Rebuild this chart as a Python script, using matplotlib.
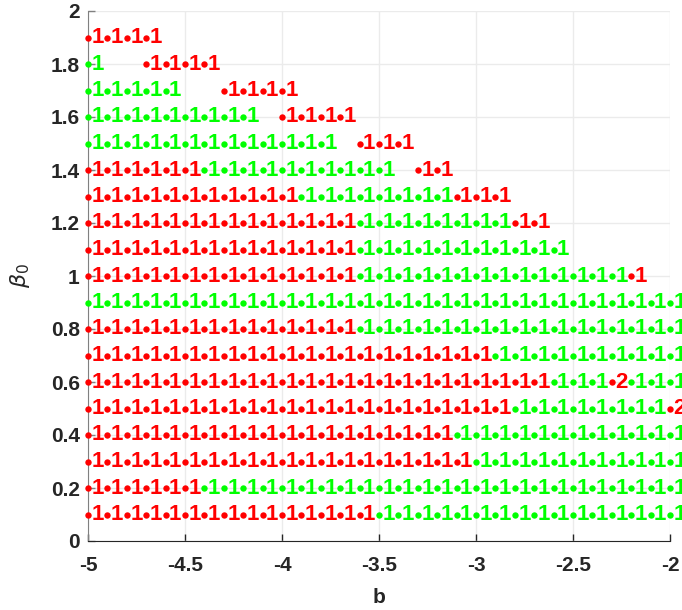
import numpy as np
import matplotlib
matplotlib.use("Agg")
import matplotlib.pyplot as plt
from matplotlib.transforms import offset_copy

# b grid values (-5.0 ... -2.0)
b_values = [round(-5.0 + 0.1 * i, 1) for i in range(31)]
beta_values = [1.9, 1.8, 1.7, 1.6, 1.5, 1.4, 1.3, 1.2, 1.1, 1.0,
               0.9, 0.8, 0.7, 0.6, 0.5, 0.4, 0.3, 0.2, 0.1]
# R = red "1", G = green "1", 2 = red "2", . = no point
rows = [
    "RRRR...........................",
    "G..RRRR........................",
    "GGGGG..RRRR....................",
    "GGGGGGGGG.RRRR.................",
    "GGGGGGGGGGGGG.RRR..............",
    "RRRRRRGGGGGGGGGG.RR............",
    "RRRRRRRRRRRGGGGGGGGRRR.........",
    "RRRRRRRRRRRRRRGGGGGGGGRR.......",
    "RRRRRRRRRRRRRRGGGGGGGGGGG......",
    "RRRRRRRRRRRRRRGGGGGGGGGGGGGGR..",
    "GGGGGGGGGGGGGGGGGGGGGGGGGGGGGGG",
    "RRRRRRRRRRRRRRGGGGGGGGGGGGGGGGG",
    "RRRRRRRRRRRRRRRRRRRRRGGGGGGGGGG",
    "RRRRRRRRRRRRRRRRRRRRRRRRGGG2GGG",
    "RRRRRRRRRRRRRRRRRRRRRRGGGGGGGG2",
    "RRRRRRRRRRRRRRRRRRRGGGGGGGGGGGG",
    "RRRRRRRRRRRRRRRRRRRRGGGGGGGGGGG",
    "RRRRRRGGGGGGGGGGGGGGGGGGGGGGGGG",
    "RRRRRRRRRRRRRRRGGGGGGGGGGGGGGGG",
]
xticks = [-5, -4.5, -4, -3.5, -3, -2.5, -2]
xticklabels = ["-5", "-4.5", "-4", "-3.5", "-3", "-2.5", "-2"]
yticks = [0, 0.2, 0.4, 0.6, 0.8, 1.0, 1.2, 1.4, 1.6, 1.8, 2.0]
yticklabels = ["0", "0.2", "0.4", "0.6", "0.8", "1", "1.2", "1.4", "1.6", "1.8", "2"]

code_color = {"R": (1, 0, 0), "G": (0, 1, 0), "2": (1, 0, 0)}
code_label = {"R": "1", "G": "1", "2": "2"}

plt.rcParams['font.family'] = ['Liberation Sans', 'DejaVu Sans']

fig = plt.figure(figsize=(6.82, 6.10), dpi=100)
ax = fig.add_axes([88/682, 69/610, (670-88)/682, (541-11)/610])

ax.set_xlim(-5, -2)
ax.set_ylim(0, 2)
ax.set_xticks(xticks)
ax.set_xticklabels(xticklabels)
ax.set_yticks(yticks)
ax.set_yticklabels(yticklabels)
ax.grid(True, color='#ebebeb', linewidth=1.0)
ax.set_axisbelow(True)
for s in ['top', 'right']:
    ax.spines[s].set_visible(False)
ax.spines['left'].set_color('#808080')
ax.spines['bottom'].set_color('#262626')
ax.tick_params(direction='in', length=5, width=1, colors='#262626',
               labelsize=15)
ax.tick_params(axis='x', pad=11)
ax.tick_params(axis='y', colors='#808080', labelcolor='#262626', pad=6)
for lab in ax.get_xticklabels() + ax.get_yticklabels():
    lab.set_fontweight('bold')

txt_tr = offset_copy(ax.transData, fig=fig, x=2.5, y=0, units='points')
for beta, row in zip(beta_values, rows):
    for b, c in zip(b_values, row):
        if c == '.':
            continue
        col = code_color[c]
        ax.plot([b], [beta], 'o', color=col, markersize=4.6,
                markeredgewidth=0, clip_on=False, zorder=3)
        ax.text(b, beta, code_label[c], color=col, fontsize=16,
                fontweight='bold', ha='left', va='center',
                transform=txt_tr, clip_on=False, zorder=4)

ax.set_xlabel('b', fontsize=15, fontweight='bold', color='#262626', labelpad=9)
ax.set_ylabel(r'$\beta_0$', fontsize=16, color='#262626', labelpad=13)

fig.savefig('out.png', dpi=100)
